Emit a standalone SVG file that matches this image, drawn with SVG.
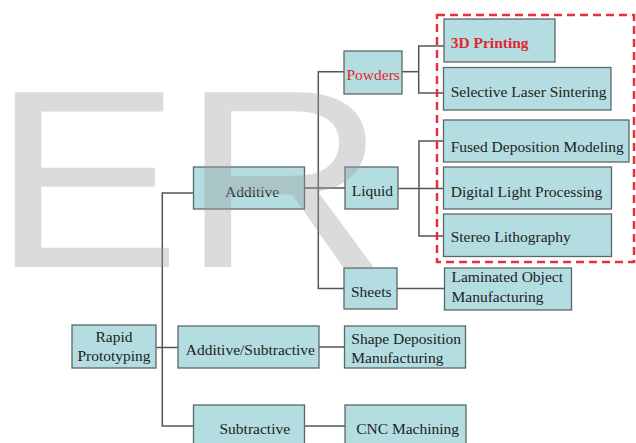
<svg xmlns="http://www.w3.org/2000/svg" width="636" height="443" viewBox="0 0 636 443">
<style>
.box{fill:#b3dde0;stroke:#5c6767;stroke-width:1.3}
.lbl{font-family:"Liberation Serif","Times New Roman",serif;font-size:15.5px;fill:#222}
.red{fill:#e0282f}
.c{fill:none;stroke:#555;stroke-width:1.5}
.wm{font-family:"Liberation Sans",Arial,sans-serif;font-size:254px;fill:#9a9a9a;fill-opacity:0.36}
</style>
<rect width="636" height="443" fill="#fff"/>
<g id="connectors" class="c">
<path d="M155.7 347.5H178"/>
<path d="M193.5 193H162.3V426H193.5"/>
<path d="M304.5 188H345"/>
<path d="M344 71.7H318.3V288.5H344"/>
<path d="M402 71.7H418.7"/>
<path d="M444 46H418.7V93H443.5"/>
<path d="M398 188.5H443.5"/>
<path d="M443.5 141H419V236H443.5"/>
<path d="M397 288.5H444.5"/>
<path d="M319 347H344.5"/>
<path d="M304.5 426H345"/>
</g>
<g id="rapid"><rect class="box" x="72" y="325" width="84" height="43"/><text class="lbl" x="114" y="341.7" text-anchor="middle">Rapid</text><text class="lbl" x="114" y="360.7" text-anchor="middle">Prototyping</text></g>
<g id="additive"><rect class="box" x="193.5" y="167" width="111" height="42"/><text class="lbl" x="225" y="196.5">Additive</text></g>
<g id="addsub"><rect class="box" x="178" y="326" width="141" height="42"/><text class="lbl" x="185.8" y="355">Additive/Subtractive</text></g>
<g id="subtractive"><rect class="box" x="193.5" y="405" width="111" height="45"/><text class="lbl" x="219.5" y="433.5">Subtractive</text></g>
<g id="powders"><rect class="box" x="344" y="51" width="58" height="43"/><text class="lbl red" x="346.5" y="80">Powders</text></g>
<g id="liquid"><rect class="box" x="345" y="167" width="53" height="42"/><text class="lbl" x="351.7" y="195.5">Liquid</text></g>
<g id="sheets"><rect class="box" x="344" y="268" width="53" height="41"/><text class="lbl" x="351" y="297">Sheets</text></g>
<g id="shape"><rect class="box" x="344.5" y="326" width="121" height="42"/><text class="lbl" x="351.3" y="344">Shape Deposition</text><text class="lbl" x="351.3" y="363.3">Manufacturing</text></g>
<g id="cnc"><rect class="box" x="345" y="405" width="121" height="45"/><text class="lbl" x="356.2" y="434">CNC Machining</text></g>
<g id="printing3d"><rect class="box" x="444" y="19" width="111" height="43"/><text class="lbl red" x="450.7" y="47.5" font-weight="bold">3D Printing</text></g>
<g id="sls"><rect class="box" x="443.5" y="67.5" width="167.5" height="42.5"/><text class="lbl" x="450.7" y="97">Selective Laser Sintering</text></g>
<g id="fdm"><rect class="box" x="443.5" y="120" width="185.5" height="42"/><text class="lbl" x="450.7" y="151.5">Fused Deposition Modeling</text></g>
<g id="dlp"><rect class="box" x="443.5" y="167" width="168" height="42"/><text class="lbl" x="450.7" y="196.5">Digital Light Processing</text></g>
<g id="sl"><rect class="box" x="443.5" y="214" width="168" height="42.5"/><text class="lbl" x="450.7" y="242">Stereo Lithography</text></g>
<g id="lom"><rect class="box" x="444.5" y="268" width="127" height="42"/><text class="lbl" x="451.5" y="282">Laminated Object</text><text class="lbl" x="451.5" y="302">Manufacturing</text></g>
<rect id="group-highlight" x="437" y="15" width="197" height="247" fill="none" stroke="#e8303a" stroke-width="2.5" stroke-dasharray="8 5"/>
<text class="wm" transform="translate(-8.5,267) scale(1.12,1)">ER</text>
</svg>
